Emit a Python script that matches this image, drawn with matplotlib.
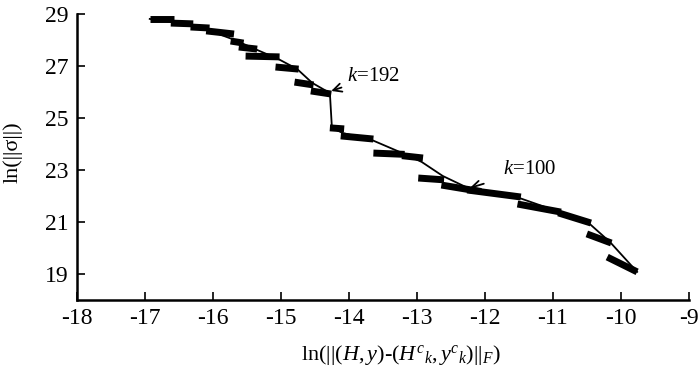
import matplotlib.pyplot as plt

plt.rcParams['font.family'] = 'Liberation Serif'
plt.rcParams['mathtext.fontset'] = 'custom'
plt.rcParams['mathtext.rm'] = 'Liberation Serif'
plt.rcParams['mathtext.it'] = 'Liberation Serif:italic'
plt.rcParams['axes.unicode_minus'] = False

# thin line through the data
line_x = [-16.93, -16.60, -16.31, -16.04, -15.68, -15.38, -15.04, -14.76, -14.54, -14.28,
          -14.25, -14.09, -13.66, -13.25, -12.93, -12.62, -12.22, -11.49, -10.90, -10.49,
          -10.16, -9.76]
line_y = [28.81, 28.69, 28.54, 28.35, 28.00, 27.65, 27.27, 26.88, 26.35, 25.96,
          24.62, 24.42, 24.15, 23.69, 23.31, 22.77, 22.27, 21.92, 21.38, 21.00,
          20.23, 19.08]

# thick clusters of points (start x, end x, start y, end y)
seg_x0 = [-16.93, -16.62, -16.33, -16.10, -15.74, -15.62, -15.52, -15.08, -14.80, -14.56,
          -14.28, -14.12, -13.64, -13.22, -12.98, -12.64, -12.26, -11.52, -10.92, -10.50, -10.20]
seg_x1 = [-16.58, -16.29, -16.05, -15.69, -15.55, -15.35, -15.02, -14.74, -14.52, -14.26,
          -14.07, -13.64, -13.18, -12.91, -12.60, -12.20, -11.47, -10.88, -10.44, -10.14, -9.76]
seg_y0 = [28.81, 28.65, 28.50, 28.35, 27.96, 27.73, 27.38, 26.96, 26.38, 26.04,
          24.62, 24.31, 23.65, 23.55, 22.69, 22.42, 22.23, 21.69, 21.35, 20.54, 19.65]
seg_y1 = [28.81, 28.62, 28.46, 28.23, 27.88, 27.65, 27.35, 26.88, 26.27, 25.92,
          24.58, 24.19, 23.60, 23.46, 22.62, 22.23, 21.96, 21.38, 20.96, 20.19, 19.08]

fig = plt.figure(figsize=(7, 3.74), dpi=100)
ax = fig.add_axes([0.11, 0.198, 0.874, 0.7646])

ax.plot(line_x, line_y, color='black', lw=1.3)
for x0, x1, y0, y1 in zip(seg_x0, seg_x1, seg_y0, seg_y1):
    ax.plot([x0, x1], [y0, y1], color='black', lw=5, solid_capstyle='butt')

ax.annotate(r'$k$=192', xy=(-14.26, 26.04), xytext=(-14.03, 26.58),
            fontsize=15, va='center', ha='left',
            arrowprops=dict(arrowstyle='->', color='black', lw=1.3, shrinkA=2, shrinkB=0))
ax.annotate(r'$k$=100', xy=(-12.22, 22.31), xytext=(-11.74, 23.0),
            fontsize=15, va='center', ha='left',
            arrowprops=dict(arrowstyle='->', color='black', lw=1.3, shrinkA=12, shrinkB=0))

ax.set_xlim(-18, -9)
ax.set_ylim(18, 29)
ax.set_xticks(range(-18, -8))
ax.set_yticks([19, 21, 23, 25, 27, 29])
ax.tick_params(direction='in', length=6, width=1.2, labelsize=17, pad=6)
for s in ['top', 'right']:
    ax.spines[s].set_visible(False)
for s in ['left', 'bottom']:
    ax.spines[s].set_linewidth(1.8)

ax.set_ylabel('ln(||σ||)', fontsize=16, va='center')
ax.yaxis.set_label_coords(-0.105, 0.517)
ax.set_xlabel(r'ln(||$(H,y)$-$(H^{c}{}_{k},y^{c}{}_{k})$||$_F$)', fontsize=16, va='center')
ax.xaxis.set_label_coords(0.53, -0.192)

fig.savefig('out.png')
